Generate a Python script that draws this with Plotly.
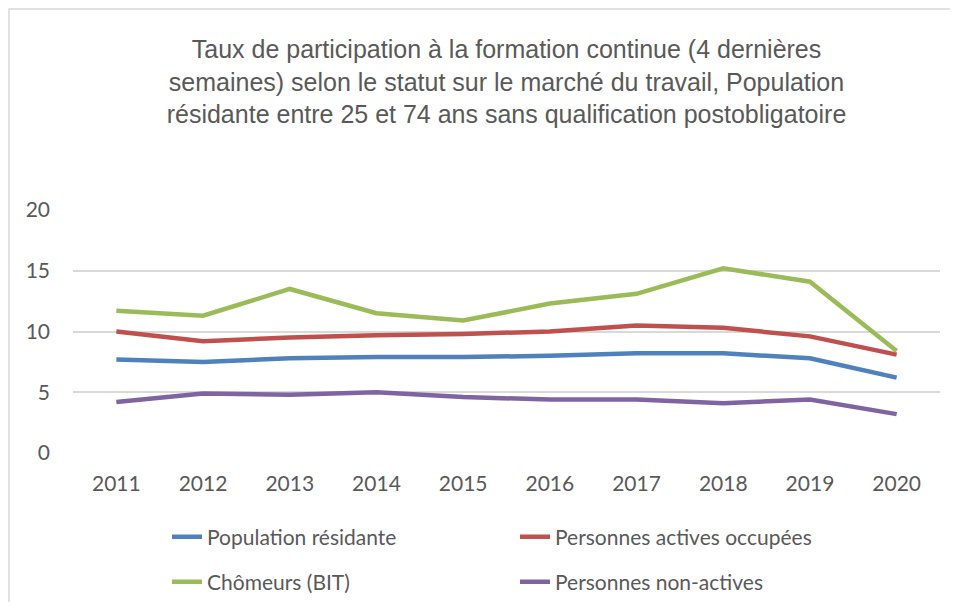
import plotly.graph_objects as go

years = ["2011", "2012", "2013", "2014", "2015", "2016", "2017", "2018", "2019", "2020"]
population_residante = [7.7, 7.5, 7.8, 7.9, 7.9, 8.0, 8.2, 8.2, 7.8, 6.2]
actives_occupees = [10.0, 9.2, 9.5, 9.7, 9.8, 10.0, 10.5, 10.3, 9.6, 8.1]
chomeurs = [11.7, 11.3, 13.5, 11.5, 10.9, 12.3, 13.1, 15.2, 14.1, 8.4]
non_actives = [4.2, 4.9, 4.8, 5.0, 4.6, 4.4, 4.4, 4.1, 4.4, 3.2]

series = [
    ("Population résidante", population_residante, "#4F81BD", "legend"),
    ("Personnes actives occupées", actives_occupees, "#C0504D", "legend2"),
    ("Chômeurs (BIT)", chomeurs, "#9BBB59", "legend3"),
    ("Personnes non-actives", non_actives, "#8064A2", "legend4"),
]

fig = go.Figure()
for name, vals, color, lg in series:
    fig.add_trace(go.Scatter(
        x=years, y=vals, name=name, mode="lines",
        line=dict(color=color, width=4.5),
        legend=lg,
    ))

# page body has an 8px margin: figure occupies screen 8..950 x 8..602 (no scrollbars)
W, H = 942, 594
L, R, T, B = 65, 10, 202, 149
pw, ph = W - L - R, H - T - B

def px_x(p):
    return (p - L) / pw

def px_y(p):
    return (H - B - p) / ph

def cx(p):
    return p / W

def cy(p):
    return 1 - p / H

FONT = "Lato, 'Open Sans', sans-serif"
legend_common = dict(
    orientation="h", xanchor="left", yanchor="middle",
    xref="container", yref="container",
    font=dict(family=FONT, size=21, color="#595959"),
    bgcolor="rgba(0,0,0,0)",
)

fig.update_layout(
    width=W, height=H,
    margin=dict(l=L, r=R, t=T, b=B, autoexpand=False),
    paper_bgcolor="white", plot_bgcolor="white",
    title=dict(
        text="Taux de participation à la formation continue (4 dernières<br>semaines) selon le statut sur le marché du travail, Population<br>résidante entre 25 et 74 ans sans qualification postobligatoire",
        x=0.5, xref="paper", xanchor="center",
        y=1 - 50 / H, yanchor="middle",
        font=dict(family="'Liberation Sans', Arial, sans-serif", size=25, color="#595959"),
    ),
    xaxis=dict(
        type="category", range=[-0.5, 9.5], showgrid=False, zeroline=False,
        showline=False, ticks="", ticklabelstandoff=16,
        tickfont=dict(family=FONT, size=21, color="#595959"),
    ),
    yaxis=dict(
        range=[0, 20], tickvals=[0, 5, 10, 15, 20], showgrid=True,
        gridcolor="#D9D9D9", gridwidth=1.5, zeroline=False, showline=False,
        ticks="", ticklabelstandoff=22,
        tickfont=dict(family=FONT, size=21, color="#595959"),
    ),
    showlegend=True,
    legend=dict(x=cx(159), y=cy(529), **legend_common),
    legend2=dict(x=cx(507), y=cy(529), **legend_common),
    legend3=dict(x=cx(159), y=cy(574), **legend_common),
    legend4=dict(x=cx(507), y=cy(574), **legend_common),
    shapes=[dict(
        type="rect", xref="paper", yref="paper",
        x0=px_x(1), x1=px_x(975), y0=px_y(625), y1=px_y(1),
        line=dict(color="#D9D9D9", width=1.5), fillcolor="rgba(0,0,0,0)",
        layer="below",
    )],
)

fig.write_html("out.html")
